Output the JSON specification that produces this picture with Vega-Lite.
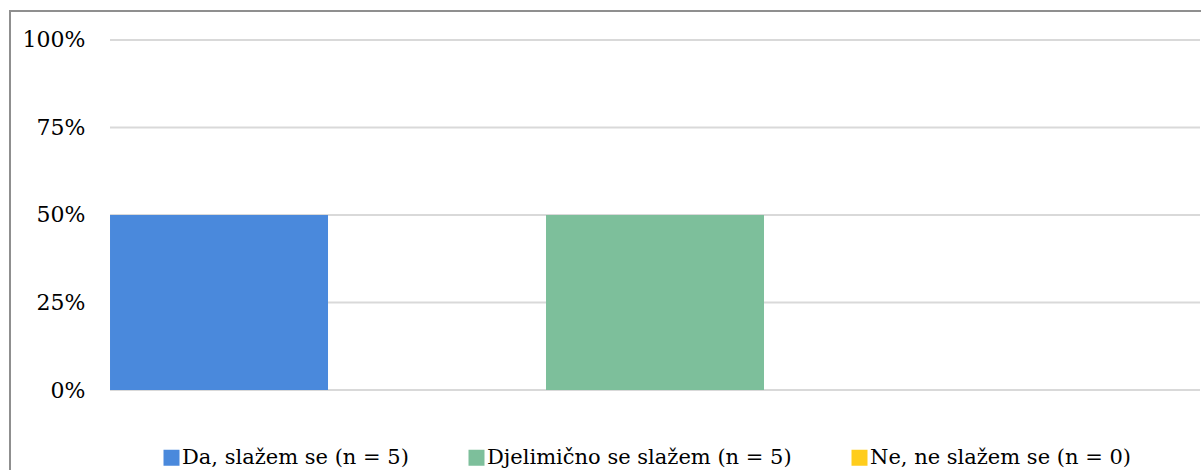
{
  "$schema": "https://vega.github.io/schema/vega-lite/v6.json",
  "width": 1290,
  "height": 470,
  "padding": {"left": 10, "top": 11, "right": 0, "bottom": 0},
  "background": "#ffffff",
  "config": {
    "view": {"stroke": "#8f8f8f", "strokeWidth": 2},
    "font": "DejaVu Serif",
    "axis": {"labelFont": "DejaVu Serif"},
    "legend": {"labelFont": "DejaVu Serif"}
  },
  "datasets": {
    "odgovori": [
      {"odgovor": "Da, slažem se (n = 5)", "udio": 0.5},
      {"odgovor": "Djelimično se slažem (n = 5)", "udio": 0.5},
      {"odgovor": "Ne, ne slažem se (n = 0)", "udio": 0}
    ],
    "mreza": [
      {"vrijednost": 0, "od": 0, "do": 1},
      {"vrijednost": 0.25, "od": 0, "do": 1},
      {"vrijednost": 0.5, "od": 0, "do": 1},
      {"vrijednost": 0.75, "od": 0, "do": 1},
      {"vrijednost": 1, "od": 0, "do": 1}
    ]
  },
  "resolve": {"scale": {"x": "independent"}},
  "layer": [
    {
      "data": {"name": "mreza"},
      "mark": {"type": "rule", "color": "#d9d9d9", "strokeWidth": 2},
      "encoding": {
        "y": {
          "field": "vrijednost",
          "type": "quantitative",
          "scale": {"domain": [-0.26, 1.082857], "nice": false, "zero": false},
          "axis": {
            "values": [0, 0.25, 0.5, 0.75, 1],
            "format": ".0%",
            "offset": -100,
            "labelPadding": 25,
            "domain": false,
            "ticks": false,
            "grid": false,
            "labelFont": "DejaVu Serif",
            "labelFontSize": 22,
            "labelColor": "#000000",
            "title": null
          }
        },
        "x": {
          "field": "od",
          "type": "quantitative",
          "scale": {"domain": [-0.09174, 1.09174], "nice": false, "zero": false},
          "axis": null
        },
        "x2": {"field": "do"}
      }
    },
    {
      "data": {"name": "odgovori"},
      "mark": {"type": "bar"},
      "encoding": {
        "x": {
          "field": "odgovor",
          "type": "nominal",
          "sort": null,
          "scale": {
            "domain": ["Da, slažem se (n = 5)", "Djelimično se slažem (n = 5)", "Ne, ne slažem se (n = 0)"],
            "paddingInner": 0.5,
            "paddingOuter": 0.2294
          },
          "axis": null
        },
        "y": {"field": "udio", "type": "quantitative"},
        "y2": {"datum": 0},
        "color": {
          "field": "odgovor",
          "type": "nominal",
          "sort": null,
          "scale": {
            "domain": ["Da, slažem se (n = 5)", "Djelimično se slažem (n = 5)", "Ne, ne slažem se (n = 0)"],
            "range": ["#4a89dc", "#7dbf9b", "#ffcd1c"]
          },
          "legend": {
            "title": null,
            "orient": "none",
            "legendX": 151,
            "legendY": 436,
            "direction": "horizontal",
            "symbolType": "square",
            "symbolSize": 256,
            "symbolStrokeWidth": 0,
            "symbolOpacity": 1,
            "labelFont": "DejaVu Serif",
            "labelFontSize": 21,
            "labelColor": "#000000",
            "labelOffset": 0,
            "columnPadding": 57,
            "labelLimit": 0
          }
        }
      }
    }
  ]
}
